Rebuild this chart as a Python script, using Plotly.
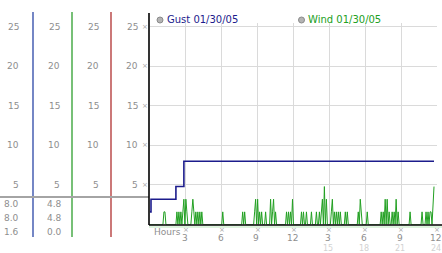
import plotly.graph_objects as go

W, H = 442, 253

# ---------------- data ----------------
SAMPLE_MIN = 5  # minutes between readings
gust_hours = [0.0, 1 / 12, 26 / 12, 34 / 12, 285 / 12]
gust_mph = [1.6, 3.2, 4.8, 8.0, 8.0]

wind_mph = [
    0, 0, 0, 0, 0, 0, 0, 0, 0, 0, 0, 0,
    0, 0, 1.6, 1.6, 0, 0, 0, 0, 0, 0, 0, 0,
    0, 0, 0, 1.6, 0, 1.6, 0, 1.6, 0, 1.6, 3.2, 0,
    3.2, 1.6, 0, 0, 0, 0, 1.6, 3.2, 1.6, 0, 1.6, 0,
    1.6, 0, 1.6, 0, 1.6, 0, 0, 0, 0, 0, 0, 0,
    0, 0, 0, 0, 0, 0, 0, 0, 0, 0, 0, 0,
    0, 1.6, 0, 0, 0, 0, 0, 0, 0, 0, 0, 0,
    0, 0, 0, 0, 0, 0, 0, 0, 0, 1.6, 0, 1.6,
    0, 0, 0, 0, 0, 0, 0, 0, 0, 1.6, 3.2, 0,
    3.2, 0, 1.6, 0, 1.6, 0, 0, 0, 1.6, 0, 0, 0,
    0, 3.2, 0, 1.6, 3.2, 0, 1.6, 0, 0, 0, 0, 0,
    0, 0, 0, 0, 0, 1.6, 0, 1.6, 0, 1.6, 0, 3.2,
    0, 0, 0, 0, 0, 0, 0, 0, 1.6, 0, 1.6, 0,
    0, 1.6, 0, 0, 0, 0, 1.6, 0, 0, 0, 0, 1.6,
    0, 0, 1.6, 0, 1.6, 3.2, 0, 4.8, 0, 3.2, 0, 0,
    0, 0, 1.6, 3.2, 0, 1.6, 0, 1.6, 0, 1.6, 0, 1.6,
    0, 0, 0, 0, 1.6, 0, 1.6, 0, 0, 0, 0, 0,
    0, 0, 0, 0, 0, 1.6, 0, 3.2, 1.6, 0, 0, 0,
    0, 0, 1.6, 0, 0, 0, 0, 0, 0, 0, 0, 0,
    0, 0, 0, 0, 1.6, 0, 1.6, 0, 3.2, 0, 3.2, 0,
    1.6, 0, 0, 1.6, 0, 1.6, 0, 3.2, 0, 1.6, 0, 0,
    0, 0, 0, 0, 0, 0, 0, 0, 0, 1.6, 0, 0,
    0, 0, 0, 0, 0, 0, 0, 0, 0, 1.6, 0, 0,
    0, 1.6, 0, 1.6, 0, 1.6, 1.6, 0, 2.4, 4.8,
]
wind_hours = [i * SAMPLE_MIN / 60 for i in range(len(wind_mph))]

y_ticks = [5, 10, 15, 20, 25]
x_ticks = [3, 6, 9, 12, 15, 18, 21, 24]
x_labels = ["3", "6", "9", "12", "3", "6", "9", "12"]
x_labels2 = ["", "", "", "", "15", "18", "21", "24"]
panel1_vals = ["8.0", "8.0", "1.6"]
panel2_vals = ["4.8", "4.8", "0.0"]
gust_name = "Gust 01/30/05"
wind_name = "Wind 01/30/05"

# ---------------- helpers ----------------
def px(x):
    return x / W

def py(y):
    return 1 - y / H

FONT = "DejaVu Sans"
GRAY = "#8e8e8e"
NAVY = "#1c1c8c"
GREEN = "#22a022"
TICKMARK = "×"

fig = go.Figure()
fig.add_trace(go.Scatter(x=wind_hours, y=wind_mph, mode="lines",
                         line=dict(color=GREEN, width=1), hoverinfo="skip"))
fig.add_trace(go.Scatter(x=gust_hours, y=gust_mph, mode="lines", line_shape="hv",
                         line=dict(color=NAVY, width=1.6), hoverinfo="skip"))

shapes = []
# left panel vertical lines
for xx, col in [(33, "#2a46a6"), (72, "#2e9e2e"), (111, "#b03030")]:
    shapes.append(dict(type="line", xref="paper", yref="paper", x0=px(xx), x1=px(xx),
                       y0=py(12), y1=py(237), line=dict(color=col, width=1.3)))
# gray horizontal divider
shapes.append(dict(type="line", xref="paper", yref="paper", x0=0, x1=px(149),
                   y0=py(197), y1=py(197), line=dict(color="#a4a4a4", width=2)))
# faint green baseline
shapes.append(dict(type="line", xref="paper", yref="paper", x0=px(149), x1=1,
                   y0=py(227), y1=py(227), line=dict(color="#bde8bd", width=1)))
# black axes
shapes.append(dict(type="line", xref="paper", yref="paper", x0=px(149), x1=1,
                   y0=py(225), y1=py(225), line=dict(color="black", width=1.6), layer="above"))
shapes.append(dict(type="line", xref="paper", yref="paper", x0=px(149), x1=px(149),
                   y0=py(13), y1=py(225), line=dict(color="black", width=1.6), layer="above"))
# legend dots
for cx in (160, 301.5):
    shapes.append(dict(type="circle", xref="paper", yref="paper",
                       x0=px(cx - 3), x1=px(cx + 3), y0=py(23), y1=py(17),
                       fillcolor="#b4b4b4", line=dict(color="#8a8a8a", width=1)))

ann = []
PAD = 2
# y labels for four columns
for t in y_ticks:
    for xr in (19, 60, 99, 138):
        ann.append(dict(x=px(xr + PAD), y=t, xref="paper", yref="y", text=str(t), showarrow=False,
                        xanchor="right", yanchor="middle",
                        font=dict(family=FONT, size=9, color=GRAY)))
    ann.append(dict(x=px(145), y=t, xref="paper", yref="y", text=TICKMARK, showarrow=False,
                    xanchor="center", yanchor="middle",
                    font=dict(family=FONT, size=7, color="#a8a8a8")))
# panel values
for i, yy in enumerate((204, 218, 232)):
    ann.append(dict(x=px(19 + PAD), y=py(yy), xref="paper", yref="paper", text=panel1_vals[i],
                    showarrow=False, xanchor="right", yanchor="middle",
                    font=dict(family=FONT, size=9, color=GRAY)))
    ann.append(dict(x=px(62 + PAD), y=py(yy), xref="paper", yref="paper", text=panel2_vals[i],
                    showarrow=False, xanchor="right", yanchor="middle",
                    font=dict(family=FONT, size=9, color=GRAY)))
# x labels
for t, l1, l2 in zip(x_ticks, x_labels, x_labels2):
    ann.append(dict(x=t, y=py(230), xref="x", yref="paper", text=TICKMARK, showarrow=False,
                    xanchor="center", yanchor="middle",
                    font=dict(family=FONT, size=7, color="#a8a8a8")))
    ann.append(dict(x=t - 0.1, y=py(238), xref="x", yref="paper", text=l1, showarrow=False,
                    xanchor="center", yanchor="middle",
                    font=dict(family=FONT, size=9, color=GRAY)))
    if l2:
        ann.append(dict(x=t - 0.1, y=py(248), xref="x", yref="paper", text=l2, showarrow=False,
                        xanchor="center", yanchor="middle", borderpad=0,
                        font=dict(family=FONT, size=8, color="#d2d2d2")))
ann.append(dict(x=px(152), y=py(232), xref="paper", yref="paper", text="Hours", showarrow=False,
                xanchor="left", yanchor="middle", font=dict(family=FONT, size=9, color=GRAY)))
# legend text
ann.append(dict(x=px(164.5), y=py(20), xref="paper", yref="paper", text=gust_name, showarrow=False,
                xanchor="left", yanchor="middle", font=dict(family=FONT, size=10, color=NAVY)))
ann.append(dict(x=px(306), y=py(20), xref="paper", yref="paper", text=wind_name, showarrow=False,
                xanchor="left", yanchor="middle", font=dict(family=FONT, size=10, color=GREEN)))

fig.update_layout(
    width=W, height=H, margin=dict(l=0, r=0, t=0, b=0),
    paper_bgcolor="white", plot_bgcolor="white", showlegend=False,
    shapes=shapes, annotations=ann,
    xaxis=dict(domain=[px(150), px(437)], range=[0, 24], tickvals=x_ticks,
               showticklabels=False, ticks="", showgrid=True, gridcolor="#dadada",
               gridwidth=1, zeroline=False, showline=False, fixedrange=True),
    yaxis=dict(domain=[py(224.5), py(23)], range=[0, 25.5], tickvals=y_ticks,
               showticklabels=False, ticks="", showgrid=True, gridcolor="#dadada",
               gridwidth=1, zeroline=False, showline=False, fixedrange=True),
)

fig.write_html("out.html", config={"displayModeBar": False})
